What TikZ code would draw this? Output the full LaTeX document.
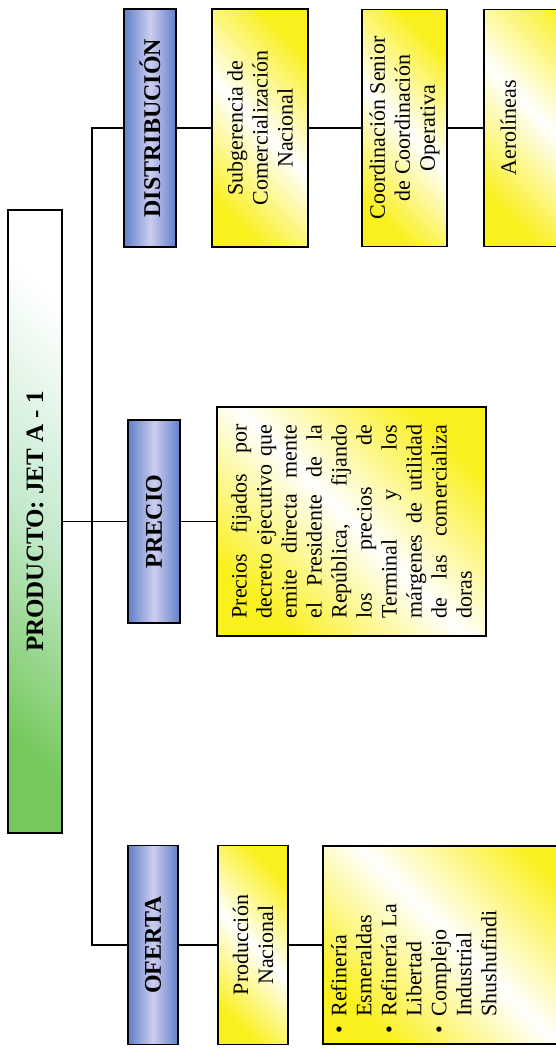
\documentclass[tikz,border=0pt]{standalone}
\usepackage{fontspec}
\setmainfont{Liberation Serif}
\usepackage{tikz}
\definecolor{hdrblue}{RGB}{96,128,200}
\definecolor{hdrlight}{RGB}{205,205,240}
\definecolor{prodgreen}{RGB}{118,200,92}
\definecolor{prodmint}{RGB}{196,234,205}
\definecolor{boxyellow}{RGB}{250,240,30}
\newcommand\bul{\makebox[0.75em][l]{\textbullet}}
\newcommand\ind{\hspace*{0.75em}}
\newcommand\jline[1]{\makebox[97pt][s]{#1}\\}
\tikzset{
  gbox/.style={draw,line width=0.9pt,rotate=90,inner sep=0pt,
    font=\fontsize{12.5}{14}\selectfont\bfseries,
    top color=prodgreen,bottom color=white,middle color=prodmint,shading angle=135},
  hdrbox/.style={draw,line width=0.9pt,rotate=90,inner sep=0pt,
    font=\fontsize{12}{14}\selectfont\bfseries,
    left color=hdrblue,right color=hdrblue,middle color=hdrlight},
  ybox/.style={draw,line width=0.9pt,rotate=90,inner sep=0pt,align=center,
    font=\fontsize{11}{12.5}\selectfont,
    top color=boxyellow,bottom color=boxyellow,middle color=white,shading angle=-45},
  link/.style={line width=0.9pt}
}
\begin{document}
\begin{tikzpicture}[x=0.5pt,y=-0.5pt]
\clip (0,0) rectangle (556,1048);
\node[gbox,minimum width=311.5pt,minimum height=27pt] (prod) at (35,521.5) {PRODUCTO: JET A - 1};

\node[hdrbox,minimum width=119pt,minimum height=26pt] (dist) at (150,128) {DISTRIBUCIÓN};
\node[hdrbox,minimum width=101.5pt,minimum height=26pt] (precio) at (154,521.5) {PRECIO};
\node[hdrbox,minimum width=99.5pt,minimum height=25pt] (oferta) at (153,945) {OFERTA};

\node[ybox,minimum width=119pt,minimum height=48pt] (subg) at (260,128)
  {Subgerencia de\\Comercialización\\Nacional};
\node[ybox,minimum width=118.5pt,minimum height=42.5pt] (coord) at (404.5,128)
  {Coordinación Senior\\de Coordinación\\Operativa};
\node[ybox,anchor=north,minimum width=118.5pt,text height=16pt,text depth=50pt] (aero) at (483,128)
  {Aerolíneas};

\node[ybox,align=left,minimum width=114.5pt,minimum height=134.5pt] (precios) at (351.5,521.5)
  {\jline{Precios fijados por}\jline{decreto ejecutivo que}\jline{emite directa mente}%
   \jline{el Presidente de la}\jline{República, fijando}\jline{los precios de}%
   \jline{Terminal y los}\jline{márgenes de utilidad}\jline{de las comercializa}doras};

\node[ybox,minimum width=99.5pt,minimum height=35pt] (pnac) at (253,945) {Producción\\Nacional};
\node[ybox,anchor=north,align=left,text width=88pt,inner xsep=5.5pt,inner ysep=4pt,text depth=120pt] (refin) at (322,945)
  {\bul Refinería\\\ind Esmeraldas\\\bul Refinería La\\\ind Libertad\\\bul Complejo\\\ind Industrial\\\ind Shushufindi};

\coordinate (trunk) at (92,0);
\draw[link] (dist.north) -- (dist.north -| trunk) -- (oferta.north -| trunk) -- (oferta.north);
\draw[link] (prod.south) -- (precio.north);
\draw[link] (dist.south) -- (subg.north);
\draw[link] (subg.south) -- (coord.north);
\draw[link] (coord.south) -- (aero.north);
\draw[link] (precio.south) -- (precios.north);
\draw[link] (oferta.south) -- (pnac.north);
\draw[link] (pnac.south) -- (refin.north);
\end{tikzpicture}
\end{document}
